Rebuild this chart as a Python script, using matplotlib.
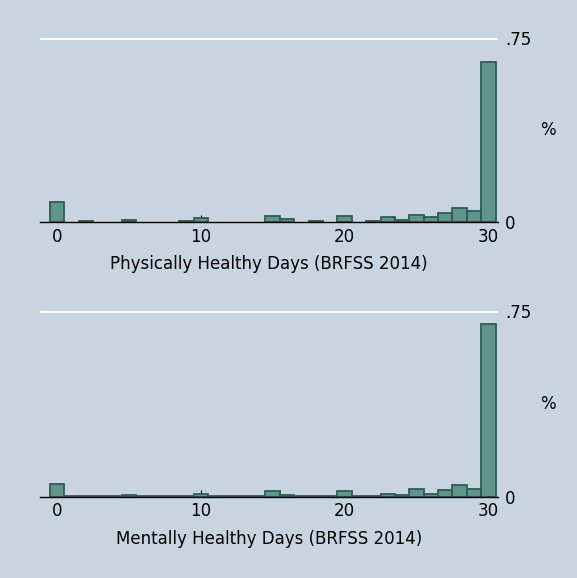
import numpy as np
import matplotlib
matplotlib.use("Agg")
import matplotlib.pyplot as plt

days = list(range(31))
physical = [0.080, 0.0, 0.003, 0.0, 0.0, 0.008, 0.0, 0.0, 0.0, 0.003,
            0.016, 0.0, 0.0, 0.0, 0.0, 0.023, 0.011, 0.0, 0.003, 0.0,
            0.023, 0.0, 0.003, 0.019, 0.008, 0.030, 0.019, 0.037, 0.057, 0.046,
            0.653]
mental = [0.050, 0.001, 0.001, 0.001, 0.001, 0.007, 0.001, 0.001, 0.001, 0.001,
          0.012, 0.001, 0.001, 0.001, 0.001, 0.022, 0.006, 0.001, 0.001, 0.001,
          0.022, 0.001, 0.001, 0.012, 0.006, 0.031, 0.012, 0.027, 0.046, 0.031,
          0.699]
titles = ["Physically Healthy Days (BRFSS 2014)", "Mentally Healthy Days (BRFSS 2014)"]
xticks = [0, 10, 20, 30]
yticks = [0, 0.75]
ytick_labels = ["0", ".75"]

bg = "#c8d4df"
fill = "#5f958a"
edge = "#2d5d54"

fig = plt.figure(figsize=(5.77, 5.78), dpi=100, facecolor=bg)
W, H = 577, 578

def add_ax(top_px, bottom_px):
    left, right = 40, 498
    return fig.add_axes([left / W, 1 - bottom_px / H, (right - left) / W, (bottom_px - top_px) / H])

axes = [add_ax(38, 222), add_ax(311.3, 496.7)]

for ax, vals, title in zip(axes, [physical, mental], titles):
    ax.set_facecolor(bg)
    d = np.array(days)
    v = np.array(vals)
    m = v > 0
    ax.bar(d[m], v[m], width=1.0, color=fill, edgecolor=edge, linewidth=1.3, zorder=3)
    ax.set_xlim(-1.18, 30.67)
    ax.set_ylim(0, 0.75)
    ax.axhline(0.75, color="white", linewidth=2, zorder=1)
    for s in ["top", "left", "right"]:
        ax.spines[s].set_visible(False)
    ax.spines["bottom"].set_color("black")
    ax.spines["bottom"].set_linewidth(1.0)
    ax.spines["bottom"].set_zorder(4)
    ax.set_xticks(xticks)
    ax.set_xticklabels([str(t) for t in xticks], fontsize=12)
    ax.tick_params(axis="x", direction="in", length=5, width=0.8, color="black", pad=4)
    for t in ax.xaxis.get_major_ticks():
        t.tick1line.set_zorder(5)
    ax.yaxis.tick_right()
    ax.set_yticks(yticks)
    ax.set_yticklabels(ytick_labels, fontsize=12)
    ax.tick_params(axis="y", length=0, pad=5)
    ax.yaxis.set_label_position("right")
    ax.set_ylabel("%", fontsize=12, rotation=0, labelpad=12, va="center")
    ax.set_xlabel(title, fontsize=12, labelpad=7)

fig.savefig("out.png", dpi=100, facecolor=bg)
